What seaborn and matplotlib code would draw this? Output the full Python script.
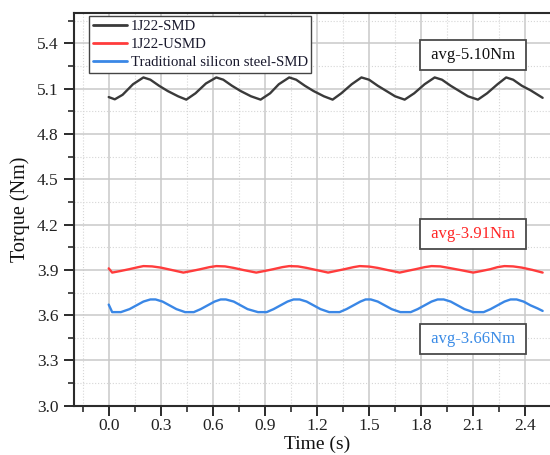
import numpy as np
import pandas as pd
import matplotlib
matplotlib.use("Agg")
import matplotlib.pyplot as plt
from matplotlib.ticker import MultipleLocator
import seaborn as sns

# ---- measured torque traces -------------------------------------------------
t_smd = [0.00, 0.035, 0.08, 0.14, 0.20, 0.24, 0.29, 0.34, 0.40, 0.447,
         0.50, 0.56, 0.62, 0.66, 0.71, 0.76, 0.82, 0.875, 0.93, 0.98,
         1.04, 1.08, 1.13, 1.18, 1.24, 1.29, 1.34, 1.40, 1.456, 1.50,
         1.55, 1.60, 1.65, 1.705, 1.76, 1.82, 1.878, 1.92, 1.97, 2.02,
         2.07, 2.127, 2.18, 2.24, 2.29, 2.33, 2.38, 2.43, 2.50]
v_smd = [5.045, 5.030, 5.060, 5.130, 5.175, 5.160, 5.120, 5.085, 5.050, 5.028,
         5.070, 5.135, 5.175, 5.160, 5.120, 5.085, 5.050, 5.028, 5.070, 5.130,
         5.175, 5.160, 5.120, 5.085, 5.050, 5.028, 5.070, 5.130, 5.175, 5.160,
         5.120, 5.085, 5.050, 5.028, 5.070, 5.130, 5.175, 5.160, 5.120, 5.085,
         5.050, 5.028, 5.070, 5.130, 5.175, 5.160, 5.120, 5.090, 5.040]

t_usmd = [0.00, 0.02, 0.07, 0.12, 0.17, 0.20, 0.25, 0.30, 0.36, 0.43,
          0.48, 0.53, 0.58, 0.62, 0.67, 0.72, 0.78, 0.85, 0.90, 0.95,
          1.00, 1.04, 1.09, 1.14, 1.20, 1.264, 1.31, 1.36, 1.41, 1.446,
          1.50, 1.55, 1.61, 1.676, 1.72, 1.77, 1.82, 1.86, 1.91, 1.96,
          2.03, 2.10, 2.15, 2.20, 2.24, 2.28, 2.33, 2.38, 2.44, 2.50]
v_usmd = [3.910, 3.882, 3.893, 3.905, 3.918, 3.925, 3.923, 3.915, 3.900, 3.882,
          3.893, 3.905, 3.918, 3.925, 3.923, 3.913, 3.898, 3.882, 3.893, 3.905,
          3.918, 3.925, 3.923, 3.913, 3.898, 3.882, 3.893, 3.905, 3.918, 3.925,
          3.922, 3.913, 3.898, 3.882, 3.893, 3.905, 3.918, 3.925, 3.923, 3.913,
          3.898, 3.882, 3.893, 3.905, 3.918, 3.925, 3.923, 3.915, 3.900, 3.882]

t_si = [0.00, 0.02, 0.07, 0.12, 0.16, 0.20, 0.24, 0.27, 0.31, 0.35,
        0.39, 0.44, 0.49, 0.53, 0.57, 0.61, 0.645, 0.675, 0.72, 0.76,
        0.80, 0.86, 0.91, 0.95, 0.99, 1.03, 1.065, 1.10, 1.14, 1.18,
        1.22, 1.27, 1.33, 1.37, 1.41, 1.45, 1.48, 1.51, 1.55, 1.59,
        1.63, 1.68, 1.74, 1.78, 1.82, 1.86, 1.895, 1.93, 1.97, 2.01,
        2.05, 2.10, 2.16, 2.20, 2.24, 2.28, 2.315, 2.35, 2.39, 2.43,
        2.47, 2.50]
v_si = [3.670, 3.620, 3.620, 3.640, 3.665, 3.690, 3.704, 3.704, 3.690, 3.665,
        3.640, 3.620, 3.620, 3.640, 3.665, 3.690, 3.704, 3.704, 3.690, 3.665,
        3.640, 3.620, 3.620, 3.640, 3.665, 3.690, 3.704, 3.704, 3.690, 3.665,
        3.640, 3.620, 3.620, 3.640, 3.665, 3.690, 3.704, 3.704, 3.690, 3.665,
        3.640, 3.620, 3.620, 3.640, 3.665, 3.690, 3.704, 3.704, 3.690, 3.665,
        3.640, 3.620, 3.620, 3.640, 3.665, 3.690, 3.704, 3.704, 3.690, 3.665,
        3.645, 3.628]

series_names = ["1J22-SMD", "1J22-USMD", "Traditional silicon steel-SMD"]
series_colors = ["#3a3a3a", "#ff3c3c", "#3a87e6"]
avg_labels = ["avg-5.10Nm", "avg-3.91Nm", "avg-3.66Nm"]
avg_label_pos = [(2.10, 5.323), (2.10, 4.137), (2.10, 3.442)]
avg_label_colors = ["#111111", "#ff2626", "#3a8be6"]

x_ticks = [0.0, 0.3, 0.6, 0.9, 1.2, 1.5, 1.8, 2.1, 2.4]
y_ticks = [3.0, 3.3, 3.6, 3.9, 4.2, 4.5, 4.8, 5.1, 5.4]

df = pd.concat([
    pd.DataFrame({"Time": t_smd, "Torque": v_smd, "Motor": series_names[0]}),
    pd.DataFrame({"Time": t_usmd, "Torque": v_usmd, "Motor": series_names[1]}),
    pd.DataFrame({"Time": t_si, "Torque": v_si, "Motor": series_names[2]}),
], ignore_index=True)

# ---- style ------------------------------------------------------------------
sns.set_theme(style="ticks")
plt.rcParams["font.family"] = ["Liberation Serif", "DejaVu Serif"]
plt.rcParams["axes.edgecolor"] = "#2b2b2b"
plt.rcParams["axes.linewidth"] = 1.5

fig = plt.figure(figsize=(5.5, 4.55), dpi=100)
ax = fig.add_axes([74 / 550, 49.3 / 455, 486 / 550, 392.4 / 455])

sns.lineplot(data=df, x="Time", y="Torque", hue="Motor",
             hue_order=series_names, palette=series_colors,
             sort=False, estimator=None, linewidth=1.7, ax=ax, legend=False,
             zorder=3)

ax.set_xlim(-0.2, 2.6)
ax.set_ylim(3.0, 5.6)
ax.set_xticks(x_ticks)
ax.set_yticks(y_ticks)
ax.set_xticklabels([f"{v:.1f}" for v in x_ticks])
ax.set_yticklabels([f"{v:.1f}" for v in y_ticks])
ax.xaxis.set_minor_locator(MultipleLocator(0.15))
ax.yaxis.set_minor_locator(MultipleLocator(0.15))

ax.grid(which="major", color="#c9c9c9", linewidth=1.1, linestyle="-", zorder=0)
ax.grid(which="minor", color="#d6d6d6", linewidth=0.8, linestyle=":", zorder=0)
ax.set_axisbelow(True)

ax.tick_params(which="major", direction="out", length=7, width=1.4,
               colors="#2b2b2b", labelsize=12.5, labelcolor="#222222")
ax.tick_params(axis="x", which="major", pad=2)
ax.tick_params(axis="y", which="major", pad=4)
ax.tick_params(which="minor", direction="out", length=4, width=1.2,
               colors="#2b2b2b")
ax.spines["right"].set_visible(False)

ax.set_xlabel("Time (s)", fontsize=14, color="#111111", labelpad=1)
ax.set_ylabel("Torque (Nm)", fontsize=14.5, color="#111111", labelpad=5)

# legend
handles = [plt.Line2D([], [], color=c, linewidth=2.0) for c in series_colors]
leg = ax.legend(handles, series_names, loc="upper left",
                bbox_to_anchor=(15 / 486, 389.7 / 392.4), borderaxespad=0,
                fontsize=10.7, frameon=True, fancybox=False, framealpha=1,
                edgecolor="#444444", handlelength=2.3, handletextpad=0.25,
                labelspacing=0.3, borderpad=0.25)
leg.get_frame().set_linewidth(1.0)
for txt in leg.get_texts():
    txt.set_color("#1a1a2e")

# average annotations
for label, (tx, ty), col in zip(avg_labels, avg_label_pos, avg_label_colors):
    ax.text(tx, ty, " " + label + " ", ha="center", va="center", fontsize=12,
            color=col, zorder=5,
            bbox=dict(boxstyle="square,pad=0.4", facecolor="white",
                      edgecolor="#4a4a4a", linewidth=1.3))

fig.savefig("out.png", dpi=100)
